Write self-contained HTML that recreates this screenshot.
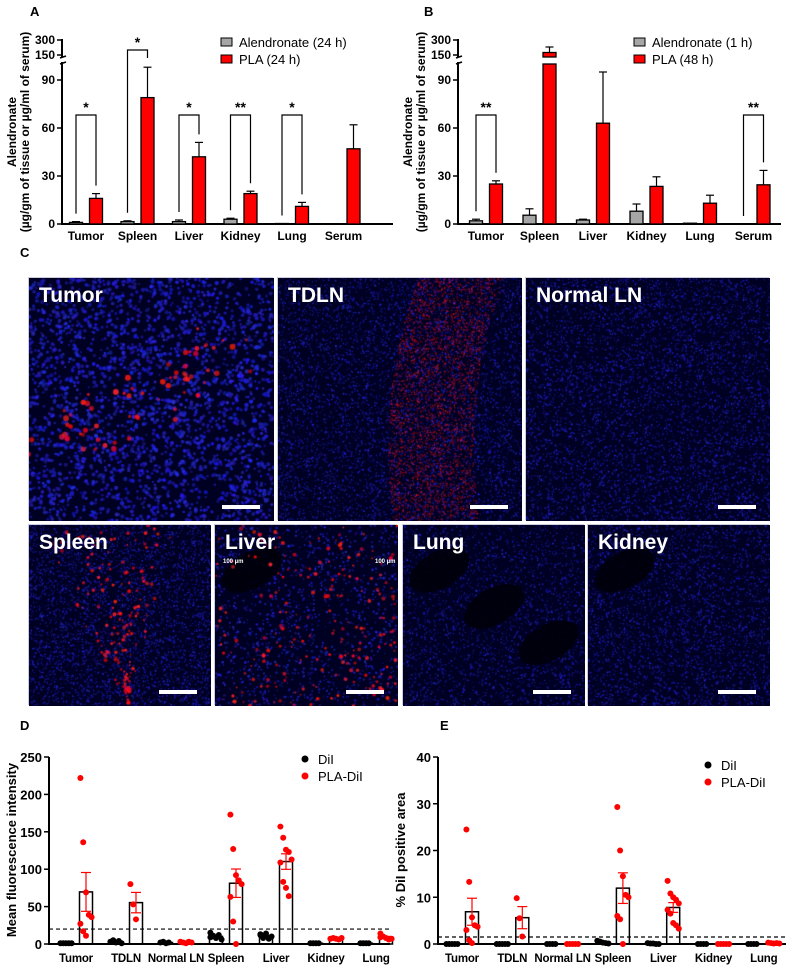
<!DOCTYPE html>
<html><head><meta charset="utf-8"><style>
body{margin:0;background:#fff;width:795px;height:969px;position:relative;overflow:hidden;font-family:"Liberation Sans",Arial,sans-serif}
.pl{position:absolute;font-weight:bold;font-size:13px}
.img{position:absolute;background:#000018;border:1px solid #ccd}
.img canvas{position:absolute;left:0;top:0}
.lab{position:absolute;left:10px;top:6px;color:#fff;font-weight:bold;font-size:21px}
.sb{position:absolute;height:4px;background:#fff}
.um{position:absolute;color:#fff;font-size:6px;font-weight:bold}
svg text{font-family:"Liberation Sans",Arial,sans-serif}
</style></head><body>
<div class="pl" style="left:30px;top:4px">A</div>
<div class="pl" style="left:424px;top:4px">B</div>
<div class="pl" style="left:20px;top:245px">C</div>
<div class="pl" style="left:20px;top:718px">D</div>
<div class="pl" style="left:440px;top:718px">E</div>
<svg id="chart" width="795" height="969" style="position:absolute;left:0;top:0"></svg>
<div id="imgs"></div>
<script>
const catsAB=["Tumor","Spleen","Liver","Kidney","Lung","Serum"];
const aGray=[1,1.5,1.5,3,0.3,0];
const aGrayErr=[0.5,0.5,1,0.6,0,0];
const aRed=[16,79,42,19,11,47];
const aRedErr=[3,19,9,1.5,2.5,15];
const aSig=["*","*","*","**","*",""];
const bGray=[2,5.5,2.5,8,0.5,0];
const bGrayErr=[1,4,0.5,4.5,0,0];
const bRed=[25,175,63,23.5,13,24.5];
const bRedErr=[2,55,32,6,5,9];
const bSig=["**","","","","","**"];
const abTicks=[0,30,60,90,150,300];

const catsDE=["Tumor","TDLN","Normal LN","Spleen","Liver","Kidney","Lung"];
const dBlack=[[1,1,1,1,1],[3,5,2,4,1],[2,3,1,2],[15,10,8,12,6,9,11],[13,9,14,7,10,12,8],[1,1,1,1],[1,1,1,1]];
const dRed=[[222,136,69,39,36,27,17,11],[80,53,33],[3,2,1,3,2],[173,127,92,85,80,63,30,0],[157,142,126,123,113,109,83,75,64],[7,8,7,6,8],[14,10,8,6,7,9]];
const dTicks=[0,50,100,150,200,250];
const dThresh=20;
const eBlack=[[0,0,0,0,0],[0,0,0,0,0],[0,0,0,0],[0.7,0.5,0.3,0.2,0.1],[0.2,0.1,0.1,0,0],[0,0,0,0],[0,0,0,0]];
const eRed=[[24.5,13.3,5.7,4,3.7,3,0.8,0.2],[9.8,5.5,1.6],[0,0,0,0,0],[29.3,20,14.5,10.5,10,6,5.3,0],[13.5,10.8,10,9.5,8.7,7.3,6.5,4.5,4,3.3],[0,0,0,0,0],[0.3,0.2,0.1,0.2,0.1]];
const eTicks=[0,10,20,30,40];
const eThresh=1.5;

const NS="http://www.w3.org/2000/svg";
const svg=document.getElementById('chart');
function mk(tag,attrs,parent,txt){const e=document.createElementNS(NS,tag);for(const k in attrs)e.setAttribute(k,attrs[k]);if(txt!==undefined)e.textContent=txt;(parent||svg).appendChild(e);return e;}

function breakY(v){return v<=100?224-v*1.6:55-(v-150)*0.1;}
function barChart(ox,axEnd,gap,first,gray,grayE,red,redE,sig,legend,nm){
  const g=mk('g',{});
  
  
  mk('line',{x1:ox,y1:224,x2:ox,y2:62,stroke:'#000','stroke-width':2},g);
  mk('line',{x1:ox,y1:57,x2:ox,y2:39,stroke:'#000','stroke-width':2},g);
  mk('line',{x1:ox-1,y1:224,x2:axEnd,y2:224,stroke:'#000','stroke-width':2},g);
  mk('line',{x1:ox-2,y1:64,x2:ox+4,y2:62,stroke:'#000','stroke-width':1.5},g);
  mk('line',{x1:ox-2,y1:58,x2:ox+4,y2:56,stroke:'#000','stroke-width':1.5},g);
  abTicks.forEach(t=>{const y=breakY(t);mk('line',{x1:ox-5,y1:y,x2:ox,y2:y,stroke:'#000','stroke-width':1.5},g);
    const tx=mk('text',{x:ox-7,y:y+4,'text-anchor':'end','font-size':12,'font-weight':'bold'},g,t);
    });
  const yt=mk('text',{transform:`translate(${ox-46},132) rotate(-90)`,'text-anchor':'middle','font-size':12,'font-weight':'bold'},g);
  
  mk('tspan',{x:0,dy:0},yt,'Alendronate');mk('tspan',{x:0,dy:13},yt,'(µg/gm of tissue or µg/ml of serum)');
  catsAB.forEach((c,i)=>{
    const cx=first+i*gap, gx=cx-10, rx=cx+10, w=13;
    const drawBar=(x,v,e,fill,n)=>{
      if(v>0){
        if(v<=100){const r=mk('rect',{x:x-w/2,y:breakY(v),width:w,height:224-breakY(v),fill:fill,stroke:'#000','stroke-width':1.3},g);}
        else{const r=mk('rect',{x:x-w/2,y:64,width:w,height:160,fill:fill,stroke:'#000','stroke-width':1.3},g);
          mk('rect',{x:x-w/2,y:breakY(v),width:w,height:57-breakY(v),fill:fill,stroke:'#000','stroke-width':1.3},g);}
      } else mk('line',{x1:x-w/2,y1:224,x2:x+w/2,y2:224,stroke:'#000','stroke-width':1.5},g);
      if(e>0){const y1=breakY(v),y2=breakY(v+e);mk('line',{x1:x,y1:y1,x2:x,y2:y2,stroke:'#000','stroke-width':1.2},g);mk('line',{x1:x-4,y1:y2,x2:x+4,y2:y2,stroke:'#000','stroke-width':1.2},g);}
    };
    drawBar(gx,gray[i],grayE[i],'#a6a6a6','bar-alendronate-'+c.toLowerCase());
    drawBar(rx,red[i],redE[i],'#ff0000','bar-pla-'+c.toLowerCase());
    if(sig[i]){
      const topv=red[i]+redE[i];
      const high=topv>80;
      const by=high?50:115;
      const ly=breakY(gray[i]+grayE[i])-8, ry=high?58:breakY(topv)-8;
      mk('polyline',{points:`${gx},${ly} ${gx},${by} ${rx},${by} ${rx},${ry}`,fill:'none',stroke:'#000','stroke-width':1.2},g);
      mk('text',{x:cx,y:by-3,'text-anchor':'middle','font-size':14,'font-weight':'bold'},g,sig[i]);
    }
    const xl=mk('text',{x:cx,y:240,'text-anchor':'middle','font-size':12,'font-weight':'bold'},g,c);
    
  });
  const lg=mk('g',{},g);
  mk('rect',{x:legend.x,y:38,width:11,height:8,fill:'#a6a6a6',stroke:'#000'},lg);
  mk('text',{x:legend.x+18,y:47,'font-size':13},lg,legend.t1);
  mk('rect',{x:legend.x,y:55,width:11,height:8,fill:'#ff0000',stroke:'#000'},lg);
  mk('text',{x:legend.x+18,y:64,'font-size':13},lg,legend.t2);
}
barChart(62,393,51.5,86,aGray,aGrayErr,aRed,aRedErr,aSig,{x:221,t1:'Alendronate (24 h)',t2:'PLA (24 h)'},'chart-a');
barChart(458,781,53.5,486,bGray,bGrayErr,bRed,bRedErr,bSig,{x:634,t1:'Alendronate (1 h)',t2:'PLA (48 h)'},'chart-b');

function stats(a){const m=a.reduce((s,v)=>s+v,0)/a.length;const sd=Math.sqrt(a.reduce((s,v)=>s+(v-m)*(v-m),0)/Math.max(1,a.length-1));return [m,sd/Math.sqrt(a.length)];}
function scatterChart(ox,axEnd,first,gap,max,ticks,black,red,thresh,title,leg,nm){
  const y0=944,yT=757;const Y=v=>y0-(v/max)*(y0-yT);
  const g=mk('g',{});
  mk('line',{x1:ox,y1:y0,x2:ox,y2:yT,stroke:'#000','stroke-width':2},g);
  mk('line',{x1:ox-1,y1:y0,x2:axEnd,y2:y0,stroke:'#000','stroke-width':2},g);
  ticks.forEach(t=>{const y=Y(t);mk('line',{x1:ox-5,y1:y,x2:ox,y2:y,stroke:'#000','stroke-width':1.5},g);
    const tx=mk('text',{x:ox-7,y:y+5,'text-anchor':'end','font-size':13,'font-weight':'bold'},g,t);});
  const yt=mk('text',{transform:`translate(${ox-33},850) rotate(-90)`,'text-anchor':'middle','font-size':13,'font-weight':'bold'},g,title);
  
  const th=mk('line',{x1:ox,y1:Y(thresh),x2:axEnd,y2:Y(thresh),stroke:'#000','stroke-width':1.2,'stroke-dasharray':'4,3'},g);
  
  catsDE.forEach((c,i)=>{
    const cx=first+i*gap;
    [[black[i],cx-10,'#000','dil'],[red[i],cx+10,'#ff0000','pla-dil']].forEach(([pts,x,col,n])=>{
      const [m,se]=stats(pts);const w=13;
      const b=mk('rect',{x:x-w/2,y:Y(m),width:w,height:y0-Y(m),fill:'none',stroke:'#000','stroke-width':1.5},g);
      
      pts.forEach((v,k)=>{const off=((k%5)-2)*2.8;const p=mk('circle',{cx:x+off,cy:Y(v),r:3,fill:col},g);});
      if(se>0&&pts.length>2){mk('line',{x1:x,y1:Y(m-se),x2:x,y2:Y(m+se),stroke:col,'stroke-width':1.2},g);
        mk('line',{x1:x-5,y1:Y(m-se),x2:x+5,y2:Y(m-se),stroke:col,'stroke-width':1.2},g);
        mk('line',{x1:x-5,y1:Y(m+se),x2:x+5,y2:Y(m+se),stroke:col,'stroke-width':1.2},g);}
    });
    const xl=mk('text',{x:cx,y:962,'text-anchor':'middle','font-size':11.5,'font-weight':'bold','letter-spacing':'-0.2'},g,c);
  });
  const lg=mk('g',{},g);
  mk('circle',{cx:leg.x,cy:leg.y,r:3.5,fill:'#000'},lg);mk('text',{x:leg.x+13,y:leg.y+5,'font-size':13},lg,'DiI');
  mk('circle',{cx:leg.x,cy:leg.y+17,r:3.5,fill:'#ff0000'},lg);mk('text',{x:leg.x+13,y:leg.y+22,'font-size':13},lg,'PLA-DiI');
}
scatterChart(49,390,76,50,250,dTicks,dBlack,dRed,dThresh,'Mean fluorescence intensity',{x:305,y:759},'chart-d');
scatterChart(438,786,462,50.3,40,eTicks,eBlack,eRed,eThresh,'% DiI positive area',{x:708,y:765},'chart-e');

// microscopy images (texture only)
const panels=[
 {n:'Tumor',x:28,y:277,w:245,h:243,blue:2600,br:1.8,red:70,rz:'diag',holes:0},
 {n:'TDLN',x:277,y:277,w:244,h:243,blue:6000,br:0.8,red:3000,rz:'band',holes:0},
 {n:'Normal LN',x:525,y:277,w:244,h:243,blue:6000,br:0.8,red:0,holes:0},
 {n:'Spleen',x:28,y:524,w:182,h:181,blue:4000,br:0.8,red:160,rz:'v',holes:0},
 {n:'Liver',x:214,y:524,w:183,h:181,blue:1300,br:1.1,red:220,rz:'all',holes:1},
 {n:'Lung',x:402,y:524,w:182,h:181,blue:2600,br:0.8,red:0,holes:3},
 {n:'Kidney',x:587,y:524,w:182,h:181,blue:3200,br:0.8,red:0,holes:1}];
let seed=7;function rnd(){seed=(seed*16807)%2147483647;return seed/2147483647;}
const host=document.getElementById('imgs');
panels.forEach(p=>{
  const d=document.createElement('div');d.className='img';
  
  
  d.style.cssText=`left:${p.x}px;top:${p.y}px;width:${p.w-2}px;height:${p.h-2}px`;
  const cv=document.createElement('canvas');cv.width=p.w;cv.height=p.h;d.appendChild(cv);
  const ctx=cv.getContext('2d');ctx.fillStyle='#000022';ctx.fillRect(0,0,p.w,p.h);
  for(let i=0;i<p.blue;i++){const x=rnd()*p.w,y=rnd()*p.h;ctx.fillStyle=`rgba(${20+rnd()*30|0},${20+rnd()*30|0},${170+rnd()*85|0},${0.45+rnd()*0.4})`;ctx.beginPath();ctx.arc(x,y,p.br*(0.6+rnd()*0.6),0,7);ctx.fill();}
  for(let h=0;h<p.holes;h++){ctx.fillStyle='rgba(0,0,10,0.9)';ctx.beginPath();ctx.ellipse(p.w*(0.2+0.3*h),p.h*(0.25+0.2*h),p.w*0.18,p.h*0.1,-0.5,0,7);ctx.fill();}
  for(let i=0;i<p.red;i++){let x=rnd()*p.w,y=rnd()*p.h,r=1.2+rnd()*1.8,a=0.5+rnd()*0.4;
    if(p.rz==='diag'){const t=rnd();x=p.w*(0.05+0.8*t)+(rnd()-0.5)*60;y=p.h*(0.75-0.5*t)+(rnd()-0.5)*60;}
    if(p.rz==='band'){const t=rnd();const cxb=p.w*(0.75-0.35*t+0.25*t*t);x=cxb+(rnd()-0.5)*p.w*0.35;y=p.h*t;r=0.8;a=0.25+rnd()*0.3;}
    if(p.rz==='v'){const t=rnd();x=p.w*(0.55+(rnd()-0.5)*0.5*(1-t)+(rnd()<0.4?-0.3*(1-t):0));y=p.h*t;r=0.8+rnd()*1.2;}
    if(p.rz==='all'){r=0.8+rnd()*1.4;}
    ctx.fillStyle=`rgba(255,${rnd()*40|0},${rnd()*60|0},${a})`;ctx.beginPath();ctx.arc(x,y,r,0,7);ctx.fill();}
  const l=document.createElement('div');l.className='lab';l.textContent=p.n;
  d.appendChild(l);
  if(p.n==='Liver'){['8px','160px'].forEach(lx=>{const u=document.createElement('div');u.className='um';u.style.left=lx;u.style.top='34px';u.textContent='100 µm';d.appendChild(u);});}
  const s=document.createElement('div');s.className='sb';s.style.width='38px';s.style.right='12px';s.style.bottom='10px';
  d.appendChild(s);
  host.appendChild(d);
});
</script>
</body></html>
